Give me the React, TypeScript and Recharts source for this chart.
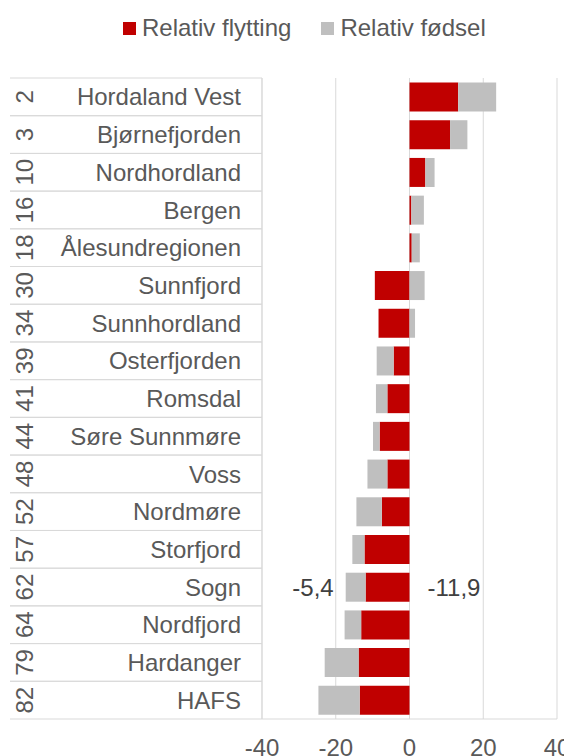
import { BarChart, Bar, XAxis, YAxis, CartesianGrid, LabelList } from 'recharts';

// ─── Data ─────────────────────────────────

const regions = [
  'Hordaland Vest', 'Bjørnefjorden', 'Nordhordland', 'Bergen', 'Ålesundregionen',
  'Sunnfjord', 'Sunnhordland', 'Osterfjorden', 'Romsdal', 'Søre Sunnmøre',
  'Voss', 'Nordmøre', 'Storfjord', 'Sogn', 'Nordfjord', 'Hardanger', 'HAFS',
];
const ranks = [2, 3, 10, 16, 18, 30, 34, 39, 41, 44, 48, 52, 57, 62, 64, 79, 82];
const flytting = [13.2, 11.0, 4.3, 0.5, 0.6, -9.4, -8.4, -4.3, -6.0, -8.1, -6.0, -7.5, -12.2, -11.9, -13.1, -13.8, -13.5];
const fodsel = [10.3, 4.7, 2.5, 3.4, 2.2, 4.1, 1.5, -4.6, -3.1, -1.8, -5.4, -6.9, -3.3, -5.4, -4.5, -9.2, -11.2];
const xTicks = [-40, -20, 0, 20, 40];
const labelledRegion = 'Sogn';

const data = regions.map((name, i) => ({
  name,
  rank: ranks[i],
  flytting: flytting[i],
  fodsel: fodsel[i],
}));

// ─── Styling ──────────────────────────────

const RED = '#C00000';
const GREY = '#BFBFBF';
const GRID = '#D9D9D9';
const TEXT = '#595959';
const FONT = '"Liberation Sans", Arial, sans-serif';
const FS = 24;

const W = 564;
const H = 748;
const MARGIN = { top: 70, right: 15, bottom: 0, left: 0 };
const Y_AXIS_W = 254;
const X_AXIS_H = 37;
const BAND = (H - MARGIN.top - MARGIN.bottom - X_AXIS_H) / regions.length;

const fmt = (v: number) => String(v).replace('.', ',');

// ─── Category tick: name + rotated rank + separators ──

function RegionTick(props: any) {
  const { x, y, payload } = props;
  const i = regions.indexOf(payload.value);
  const top = y - BAND / 2;
  const bottom = y + BAND / 2;
  const rx = x - 217;
  return (
    <g>
      <line x1={x - 231} x2={x + 21} y1={top} y2={top} stroke={GRID} />
      <line x1={x - 231} x2={x + 21} y1={bottom} y2={bottom} stroke={GRID} />
      <text x={x} y={y} dy="0.36em" textAnchor="end" fill={TEXT} fontSize={FS} fontFamily={FONT}>
        {payload.value}
      </text>
      <text
        x={rx}
        y={y}
        dy="0.36em"
        textAnchor="middle"
        transform={`rotate(-90, ${rx}, ${y})`}
        fill={TEXT}
        fontSize={FS}
        fontFamily={FONT}
      >
        {ranks[i]}
      </text>
    </g>
  );
}

// ─── Value labels (only on one row) ───────

function makeLabel(side: 'base' | 'end') {
  return (props: any) => {
    const { x, y, width, height, index, value } = props;
    if (regions[index] !== labelledRegion) return null;
    const left = Math.min(x, x + width);
    const right = Math.max(x, x + width);
    const cy = y + height / 2;
    return side === 'base' ? (
      <text x={right + 18} y={cy} dy="0.36em" textAnchor="start" fill="#404040" fontSize={FS} fontFamily={FONT}>
        {fmt(value)}
      </text>
    ) : (
      <text x={left - 12} y={cy} dy="0.36em" textAnchor="end" fill="#404040" fontSize={FS} fontFamily={FONT}>
        {fmt(value)}
      </text>
    );
  };
}

// ─── Legend ──────────────────────────────

function LegendBox() {
  const items = [
    { label: 'Relativ flytting', color: RED },
    { label: 'Relativ fødsel', color: GREY },
  ];
  return (
    <div
      style={{
        position: 'absolute',
        top: 7,
        left: 115,
        display: 'flex',
        alignItems: 'center',
        gap: 30,
        fontFamily: FONT,
        fontSize: FS,
        lineHeight: '26px',
        color: TEXT,
        whiteSpace: 'nowrap',
      }}
    >
      {items.map((it) => (
        <div key={it.label} style={{ display: 'flex', alignItems: 'center', gap: 6 }}>
          <span style={{ display: 'inline-block', width: 13, height: 13, background: it.color }} />
          <span>{it.label}</span>
        </div>
      ))}
    </div>
  );
}

// ─── Chart ───────────────────────────────

export default function App() {
  return (
    <div style={{ position: 'relative', width: W, height: H, fontFamily: FONT }}>
      <BarChart
        width={W}
        height={H}
        data={data}
        layout="vertical"
        stackOffset="sign"
        barCategoryGap="12%"
        margin={MARGIN}
      >
        <CartesianGrid horizontal={false} stroke={GRID} />
        <XAxis
          type="number"
          domain={[-40, 40]}
          ticks={xTicks}
          height={X_AXIS_H}
          tickLine={false}
          tickSize={0}
          tickMargin={20}
          axisLine={{ stroke: GRID }}
          tick={{ fill: TEXT, fontSize: FS, fontFamily: FONT }}
        />
        <YAxis
          type="category"
          dataKey="name"
          width={Y_AXIS_W}
          interval={0}
          tickLine={false}
          tickSize={0}
          tickMargin={21}
          axisLine={{ stroke: GRID }}
          tick={RegionTick}
        />
        <Bar dataKey="flytting" name="Relativ flytting" stackId="a" fill={RED} isAnimationActive={false}>
          <LabelList dataKey="flytting" content={makeLabel('base')} />
        </Bar>
        <Bar dataKey="fodsel" name="Relativ fødsel" stackId="a" fill={GREY} isAnimationActive={false}>
          <LabelList dataKey="fodsel" content={makeLabel('end')} />
        </Bar>
      </BarChart>
      <LegendBox />
    </div>
  );
}
